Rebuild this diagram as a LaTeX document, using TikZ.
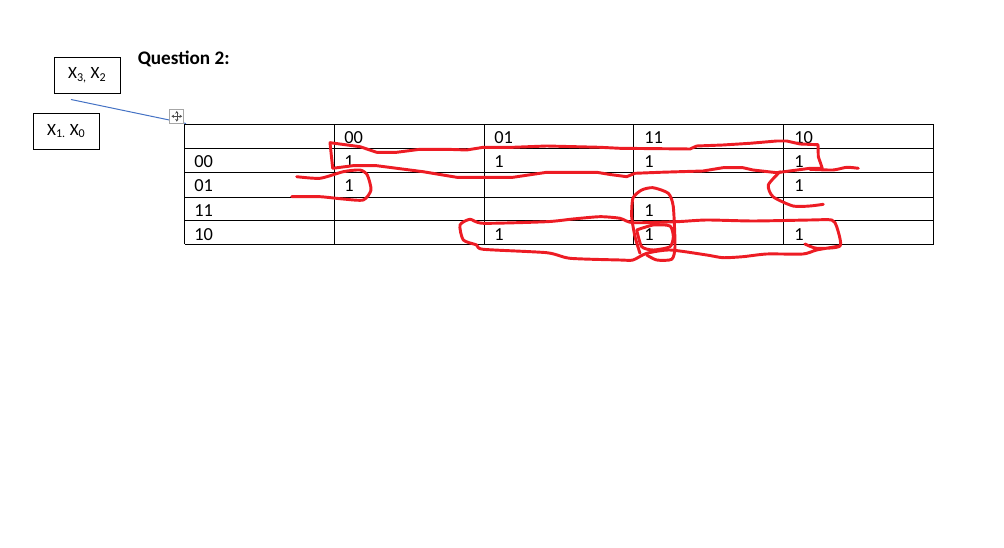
\documentclass[tikz,border=0pt]{standalone}
\usepackage{fontspec}
\setmainfont{Carlito}
\usetikzlibrary{arrows.meta}

\tikzset{
	labelbox/.style={draw=black,line width=0.75pt,inner sep=0pt,minimum width=49.5pt,minimum height=27pt,font=\fontsize{12.9}{14}\selectfont},
	celltext/.style={anchor=west,inner sep=0pt,font=\fontsize{13.8}{16}\selectfont},
	gridline/.style={draw=black,line width=0.75pt},
	redink/.style={draw=inkred,line width=2.2pt,line cap=round,line join=round}
}
\definecolor{inkred}{HTML}{ED1C24}
\definecolor{handleblue}{HTML}{4472C4}
\definecolor{handlegray}{HTML}{A6A6A6}

\begin{document}
\begin{tikzpicture}[x=0.75pt,y=-0.75pt]
		\useasboundingbox (0,0) rectangle (1004,548);

		% heading and the two axis boxes
		\node[anchor=west,inner sep=0pt,font=\fontsize{14.4}{17}\selectfont\bfseries] (question) at (137.5,59) {Question 2:};
		\node[labelbox] (x3x2) at (87.3,75.3) {X\textsubscript{3,} X\textsubscript{2}};
		\node[labelbox] (x1x0) at (66.3,131.3) {X\textsubscript{1.} X\textsubscript{0}};

		% slanted line and table handle
		\coordinate (slantA) at (71,99.5);
		\coordinate (slantB) at (186,123.5);
		\draw[handleblue,line width=0.75pt] (slantA) -- (slantB);
		\node[draw=handlegray,fill=white,line width=0.75pt,inner sep=0pt,minimum size=10.5pt] (handle) at (176.8,116.3) {};
		\draw[{Stealth[length=2pt,width=2.5pt]}-{Stealth[length=2pt,width=2.5pt]},black!70,line width=0.4pt] ([yshift=-4pt]handle.center) -- ([yshift=4pt]handle.center);
		\draw[{Stealth[length=2pt,width=2.5pt]}-{Stealth[length=2pt,width=2.5pt]},black!70,line width=0.4pt] ([xshift=-4pt]handle.center) -- ([xshift=4pt]handle.center);

		% table
		\foreach \ypos in {124.5,149,172.5,197.5,221,244.5}
			\draw[gridline] (184.5,\ypos) -- (933.5,\ypos);
		\foreach \xpos in {184.5,334.5,484,633.5,783.5,933.5}
			\draw[gridline] (\xpos,124.5) -- (\xpos,244.5);

		\begin{scope}[every node/.style={celltext}]
			\node (col-00) at (344,137.7) {00};
			\node (col-01) at (494,137.7) {01};
			\node (col-11) at (644,137.7) {11};
			\node (col-10) at (794,137.7) {10};
			\node (row-00) at (194,161.7) {00};
			\node (row-01) at (194,186) {01};
			\node (row-11) at (194,210.7) {11};
			\node (row-10) at (194,234.2) {10};
			\node (00-00) at (344,161.7) {1};
			\node (00-01) at (494,161.7) {1};
			\node (00-11) at (644,161.7) {1};
			\node (00-10) at (794,161.7) {1};
			\node (01-00) at (344,186) {1};
			\node (01-10) at (794,186) {1};
			\node (11-11) at (644,210.7) {1};
			\node (10-01) at (494,234.2) {1};
			\node (10-11) at (644,234.2) {1};
			\node (10-10) at (794,234.2) {1};
		\end{scope}

		% pen strokes
		\draw[redink] (332.7,168.3) -- (330,142.7) -- (360,146.7) -- (376.7,152.3) -- (396.7,152.3) -- (420,149.3) -- (446.7,149.3) -- (466.7,150) -- (483.3,147.3) -- (513,147.3) -- (546.7,146) -- (600,147.3) -- (620,148.3) -- (690,149) -- (696.7,146) -- (723,145) -- (750,143.3) -- (776.7,141) -- (786.7,141) -- (800,144) -- (818,144.7) -- (818.3,156.7) -- (822.3,168.3) -- (810,168.3) -- (776.7,172.7) -- (753,170) -- (743,167.7) -- (723,167.7) -- (703,171) -- (660,172.3) -- (635,173.3) -- (626.7,176.7) -- (610,174.5) -- (596.7,172.3) -- (546.7,172.3) -- (513,177.3) -- (456.7,177.3) -- (423,171.7) -- (396.7,168.3) -- (376.7,165.7) -- (353,165.7) -- (332.7,168.3);
		\draw[redink] plot[smooth,tension=0.4] coordinates {(810,169.3) (833,170) (846.7,167.3) (858.3,168.3)};
		\draw[redink] plot[smooth,tension=0.4] coordinates {(296.7,176.7) (320,178.3) (343.3,171.7) (360,170) (367.3,175) (371,190) (363.3,200) (343,199) (320,196.7) (291.7,196.7)};
		\draw[redink] plot[smooth,tension=0.4] coordinates {(780,171.7) (768.3,185) (773,196.7) (793,206) (810,206) (823.3,204.3)};
		\draw[redink] plot[smooth,tension=0.4] coordinates {(640,253.3) (635,236.7) (631.7,216.7) (633,198) (641.7,190) (653,187.7) (668.3,193.3) (673.3,206.7) (675,246.7) (671.7,259.3) (656.7,260) (646.7,255)};
		\draw[redink] plot[smooth,tension=0.4] coordinates {(636.7,230) (653.3,225) (670,226) (673.3,236.7) (670,246.7) (653.3,250) (641.7,246.7) (636.7,230)};
		\draw[redink] plot[smooth,tension=0.4] coordinates {(805,244) (816.7,248.3) (840,246) (836.7,226.7) (831.7,220) (810,220) (753,221) (706.7,220) (676.7,221.7) (633,222.7) (620,218.3) (600,216.7) (573,219) (546.7,221.7) (483.3,223.3) (470,219.3) (460,225) (463.3,240) (476.7,245) (483.3,249.3) (546.7,252.7) (570,258.3) (620,260) (633,260) (646.7,253.3) (670,250) (706.7,255) (723,257.7) (743,256.7) (766.7,254) (803,254) (816.7,250) (840,246)};
\end{tikzpicture}
\end{document}
